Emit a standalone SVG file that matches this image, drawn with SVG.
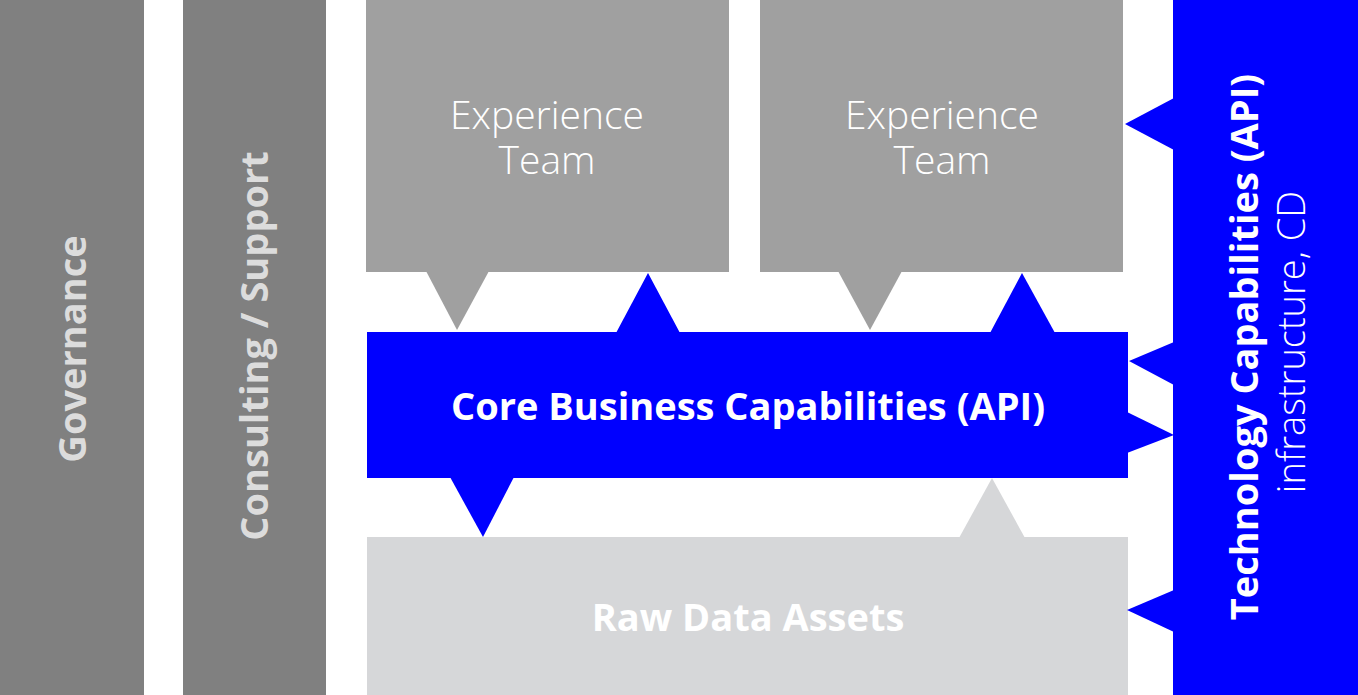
<svg xmlns="http://www.w3.org/2000/svg" width="1358" height="695" viewBox="0 0 1358 695">
<style>
.b{fill:#0000ff}.g{fill:#a0a0a0}.l{fill:#d6d7d9}.d{fill:#808080}
text{font-family:"Open Sans","Liberation Sans",sans-serif;text-anchor:middle}
.t1{fill:#ffffff;font-size:39px;font-weight:300}
.t2{fill:#ffffff;font-size:38px;font-weight:700}
.t3{fill:#dcdcdc;font-size:38px;font-weight:700}
</style>
<rect width="1358" height="695" fill="#fff"/>
<g id="governance"><rect class="d" x="0" y="0" width="144" height="695"/><text class="t3" transform="translate(86,349) rotate(-90)">Governance</text></g>
<g id="consulting"><rect class="d" x="183" y="0" width="143" height="695"/><text class="t3" transform="translate(268,346) rotate(-90)">Consulting / Support</text></g>
<g id="exp1"><rect class="g" x="366" y="0" width="363" height="272"/><text class="t1" x="547" y="129">Experience</text><text class="t1" x="547" y="174">Team</text></g>
<g id="exp2"><rect class="g" x="760" y="0" width="363" height="272"/><text class="t1" x="942" y="129">Experience</text><text class="t1" x="942" y="174">Team</text></g>
<g id="core"><rect class="b" x="367" y="332" width="761" height="146"/><text class="t2" x="748" y="420">Core Business Capabilities (API)</text></g>
<g id="raw"><rect class="l" x="367" y="537" width="761" height="158"/><text class="t2" x="748" y="631" style="fill:#fff">Raw Data Assets</text></g>
<g id="tech"><rect class="b" x="1173" y="0" width="185" height="695"/>
<text class="t2" transform="translate(1258,347) rotate(-90)">Technology Capabilities (API)</text>
<text class="t1" transform="translate(1305,342) rotate(-90)" style="font-size:38px">infrastructure, CD</text></g>
<g id="connectors">
<polygon class="g" points="426,271 489,271 457,330"/>
<polygon class="g" points="838,271 902,271 870,330"/>
<polygon class="b" points="616,333 680,333 648,273"/>
<polygon class="b" points="990,333 1055,333 1022,273"/>
<polygon class="b" points="450,477 514,477 483,537"/>
<polygon class="l" points="959,538 1025,538 992,478"/>
<polygon class="b" points="1174,98 1174,150 1125,124"/>
<polygon class="b" points="1174,342 1174,385 1129,361"/>
<polygon class="b" points="1127,412 1127,453 1174,435"/>
<polygon class="b" points="1174,590 1174,632 1127,610"/>
</g>
</svg>
